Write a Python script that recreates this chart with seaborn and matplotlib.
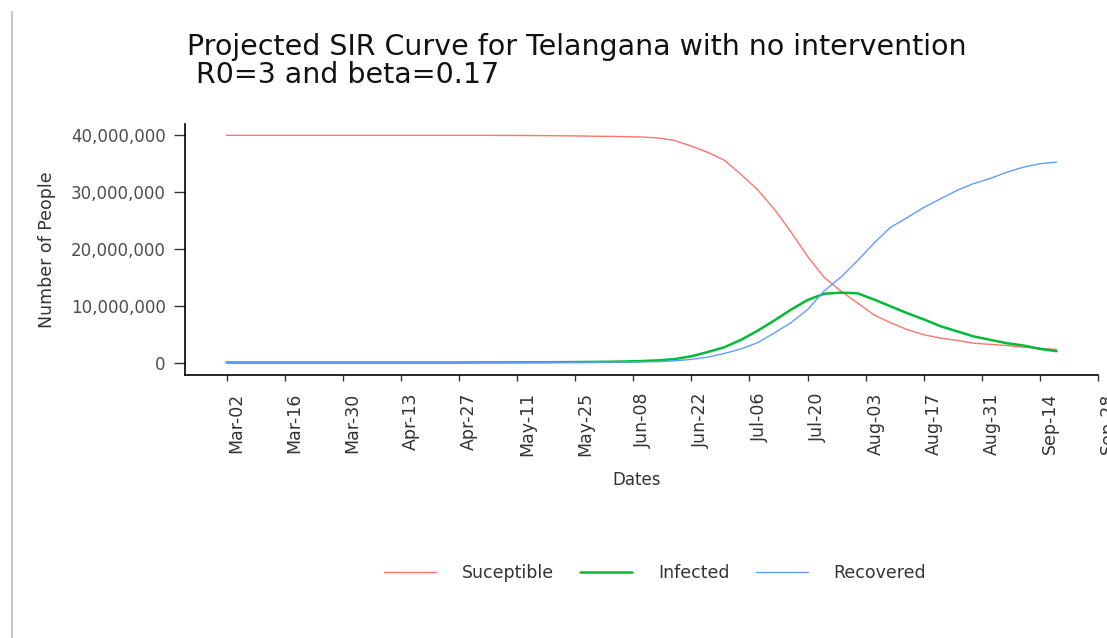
import numpy as np
import pandas as pd
import matplotlib
matplotlib.use("Agg")
import matplotlib.pyplot as plt
import matplotlib.ticker as mticker
import matplotlib.transforms as mtransforms
import seaborn as sns

# Datos (millones de personas)
START = "2020-03-02"
day_offset = [0, 7, 14, 21, 28, 35, 42, 49, 56, 63, 70, 77, 84,
              88, 92, 96, 100, 104, 108, 112, 116, 120, 124, 128, 132, 136,
              140, 144, 148, 152, 156, 160, 164, 168, 172, 176, 180, 184,
              188, 192, 196, 200]
susceptible_m = [40.0, 40.0, 40.0, 40.0, 40.0, 40.0, 40.0, 40.0, 40.0, 40.0, 39.98, 39.95, 39.9,
                 39.85, 39.82, 39.78, 39.70, 39.55, 39.10, 38.10, 37.00, 35.60, 33.10, 30.40, 27.00, 23.00,
                 18.70, 15.00, 12.60, 10.50, 8.40, 7.00, 5.80, 4.90, 4.30, 3.90, 3.40, 3.20,
                 3.00, 2.70, 2.50, 2.30]
infected_m = [0.0, 0.0, 0.0, 0.0, 0.0, 0.0, 0.0, 0.0, 0.0, 0.02, 0.03, 0.05, 0.08,
              0.10, 0.13, 0.18, 0.25, 0.38, 0.60, 1.10, 1.85, 2.70, 4.00, 5.60, 7.40, 9.30,
              11.00, 12.10, 12.30, 12.20, 11.10, 9.90, 8.70, 7.60, 6.40, 5.50, 4.60, 4.00,
              3.40, 3.00, 2.40, 2.00]
recovered_m = [0.0, 0.0, 0.0, 0.0, 0.0, 0.0, 0.0, 0.0, 0.0, 0.01, 0.02, 0.03, 0.05,
               0.05, 0.06, 0.08, 0.10, 0.15, 0.30, 0.55, 0.95, 1.60, 2.40, 3.50, 5.20, 7.00,
               9.30, 12.60, 15.00, 17.90, 21.00, 23.80, 25.50, 27.30, 28.80, 30.30, 31.50, 32.40,
               33.50, 34.40, 35.00, 35.30]
series_names = ["Suceptible", "Infected", "Recovered"]
series_colors = ["#F8766D", "#00BA38", "#619CFF"]
y_ticks = [0, 10_000_000, 20_000_000, 30_000_000, 40_000_000]

fechas = pd.Timestamp(START) + pd.to_timedelta(day_offset, unit="D")
df = pd.DataFrame({
    "Dates": fechas,
    "Suceptible": np.array(susceptible_m) * 1e6,
    "Infected": np.array(infected_m) * 1e6,
    "Recovered": np.array(recovered_m) * 1e6,
}).melt(id_vars="Dates", var_name="Compartment", value_name="People")

sns.set_style("ticks")
plt.rcParams["font.family"] = ["DejaVu Sans"]

W, H = 1107, 638
fig = plt.figure(figsize=(W / 100, H / 100), dpi=100)
ax = fig.add_axes([185 / W, 1 - 375 / H, 913 / W, 251 / H])

sns.lineplot(data=df, x="Dates", y="People", hue="Compartment",
             hue_order=series_names, palette=series_colors, linewidth=1.0, ax=ax)
ax.lines[1].set_linewidth(1.8)

# Ejes
inicio = pd.Timestamp(START)
ax.set_xlim(inicio - pd.Timedelta(days=10), inicio + pd.Timedelta(days=210))
tick_dates = pd.date_range(START, periods=16, freq="14D")
ax.set_xticks(tick_dates)
ax.set_xticklabels([d.strftime("%b-%d") for d in tick_dates])
ax.set_ylim(-2.2e6, 42e6)
ax.set_yticks(y_ticks)
ax.yaxis.set_major_formatter(mticker.FuncFormatter(lambda v, p: f"{v:,.0f}"))
sns.despine(ax=ax)
for sp in ["left", "bottom"]:
    ax.spines[sp].set_linewidth(1.2)
    ax.spines[sp].set_color("black")

ax.tick_params(axis="y", length=8, width=1, pad=6, labelsize=12,
               labelcolor="#4D4D4D", color="#333333")
ax.tick_params(axis="x", length=4.5, width=1, pad=8, labelsize=12.5,
               labelcolor="#333333", color="#333333", labelrotation=90)
desplaza = mtransforms.ScaledTranslation(10 / 100, 0, fig.dpi_scale_trans)
for lbl in ax.get_xticklabels():
    lbl.set_transform(lbl.get_transform() + desplaza)

ax.set_xlabel("Dates", fontsize=12, color="#333333")
ax.set_ylabel("Number of People", fontsize=12.5, color="#333333")
ax.xaxis.set_label_coords((637 - 185) / 913, (375 - 471) / 251)
ax.yaxis.set_label_coords((56 - 185) / 913, 0.5)

fig.text(187 / W, 1 - 33 / H,
         "Projected SIR Curve for Telangana with no intervention\n R0=3 and beta=0.17",
         fontsize=20.5, ha="left", va="top", linespacing=1.0, color="#111111")

# Leyenda abajo
handles, labels = ax.get_legend_handles_labels()
ax.get_legend().remove()
handles[1].set_linewidth(1.8)
fig.legend(handles, labels, loc="center", bbox_to_anchor=(655 / W, 1 - 573 / H),
           ncol=3, frameon=False, fontsize=12.5, handlelength=3.0,
           handletextpad=1.5, columnspacing=1.5, labelcolor="#333333")

# Borde gris a la izquierda
fig.add_artist(plt.Line2D([12 / W, 12 / W], [0, 1 - 12 / H], color="#C8C8C8",
                          lw=1.5, transform=fig.transFigure))

fig.savefig("out.png", dpi=100)
